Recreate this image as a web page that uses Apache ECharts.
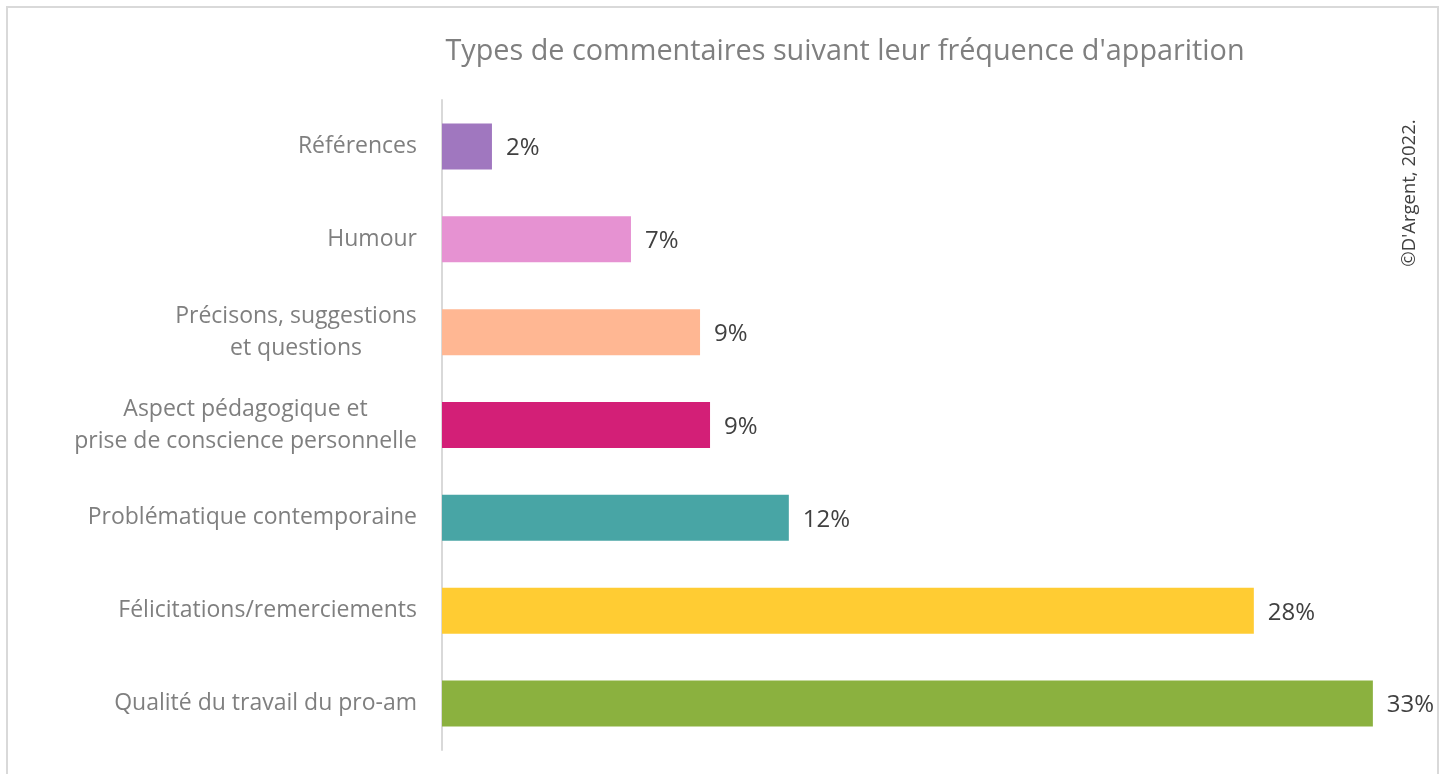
<!DOCTYPE html>
<html lang="fr">
<head>
<meta charset="utf-8">
<title>Types de commentaires</title>
<script src="https://cdn.jsdelivr.net/npm/echarts@6/dist/echarts.min.js"></script>
<style>
  html, body { margin: 0; padding: 0; background: #ffffff; }
  #chart { width: 1445px; height: 774px; }
</style>
</head>
<body>
<div id="chart"></div>
<script>
// Comment categories, listed top to bottom
const categories = [
  'Références',
  'Humour',
  'Précisons, suggestions\net questions',
  'Aspect pédagogique et\nprise de conscience personnelle',
  'Problématique contemporaine',
  'Félicitations/remerciements',
  'Qualité du travail du pro-am'
];

// Share of comments (%) for each category
const shares = [1.75, 6.62, 9.04, 9.39, 12.15, 28.44, 32.61];

// One colour per category
const barColors = ['#A077BF', '#E692D2', '#FFB793', '#D31F77', '#48A5A5', '#FFCC33', '#8BB13F'];

const titleText = "Types de commentaires suivant leur fréquence d'apparition";
const creditText = "©D'Argent, 2022.";

const FONT = '"Open Sans", sans-serif';
const LABEL_SIZE = 23;

// Width of the widest line of a multi-line label, used to centre its lines
const measureCtx = document.createElement('canvas').getContext('2d');
measureCtx.font = LABEL_SIZE + 'px ' + FONT;
function blockWidth(text) {
  return Math.max.apply(null, text.split('\n').map(l => measureCtx.measureText(l).width));
}

const categoryData = categories.map(c => {
  if (c.indexOf('\n') < 0) return c;
  const w = Math.ceil(blockWidth(c));
  return { value: c, textStyle: { align: 'center', padding: [4, w, 0, 0] } };
});

const chart = echarts.init(document.getElementById('chart'), null, { renderer: 'canvas' });

chart.setOption({
  backgroundColor: '#ffffff',
  animation: false,
  title: {
    text: titleText,
    left: 840,
    top: 32,
    textAlign: 'center',
    textStyle: { color: '#7F7F7F', fontFamily: FONT, fontSize: 28.8, fontWeight: 'normal' }
  },
  grid: { left: 442, top: 100, height: 650, width: 942 },
  xAxis: {
    type: 'value',
    min: 0,
    max: 33,
    show: false
  },
  yAxis: {
    type: 'category',
    inverse: true,
    data: categoryData,
    axisLine: { show: true, lineStyle: { color: '#D9D9D9', width: 2 } },
    axisTick: { show: false },
    axisLabel: {
      margin: 25,
      padding: [4, 0, 0, 0],
      color: '#7F7F7F',
      fontFamily: FONT,
      fontSize: LABEL_SIZE,
      lineHeight: 32
    }
  },
  series: [{
    type: 'bar',
    barWidth: 46,
    data: shares.map((v, i) => ({ value: v, itemStyle: { color: barColors[i] } })),
    label: {
      show: true,
      position: 'right',
      distance: 14,
      offset: [0, 2],
      color: '#404040',
      fontFamily: FONT,
      fontSize: 24,
      formatter: p => Math.round(p.value) + '%'
    }
  }],
  graphic: [
    {
      type: 'rect',
      silent: true,
      shape: { x: 7, y: 7, width: 1431, height: 800 },
      style: { fill: 'none', stroke: '#D9D9D9', lineWidth: 2 }
    },
    {
      type: 'text',
      x: 1410,
      y: 193,
      rotation: Math.PI / 2,
      style: {
        text: creditText,
        fill: '#404040',
        font: '18.5px ' + FONT,
        align: 'center',
        verticalAlign: 'middle'
      }
    }
  ]
});
</script>
</body>
</html>
